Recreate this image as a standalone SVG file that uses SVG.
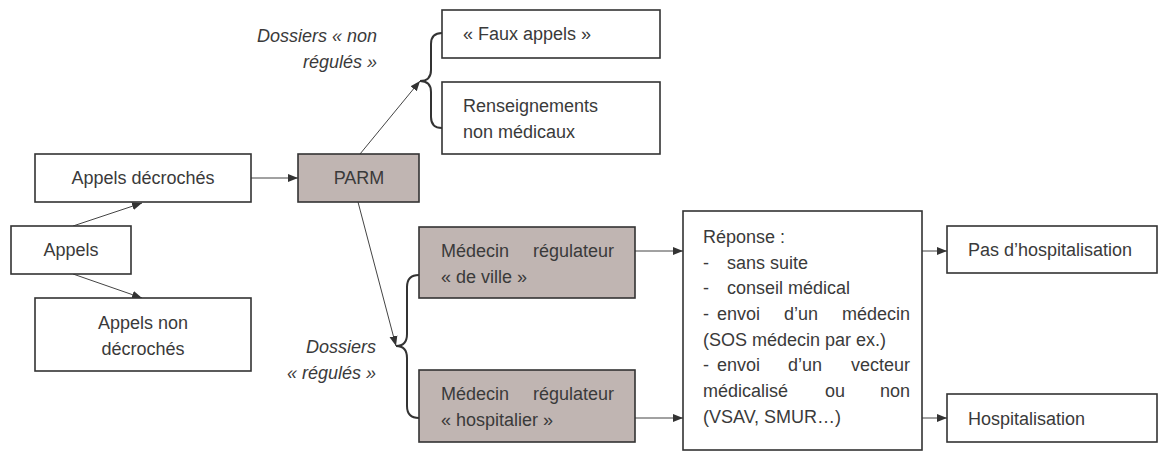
<svg xmlns="http://www.w3.org/2000/svg" width="1160" height="451" viewBox="0 0 1160 451">
<style>
.box{fill:#fff;stroke:#333;stroke-width:1.6}
.grey{fill:#c0b5b2;stroke:#333;stroke-width:1.6}
text{font-family:"Liberation Sans",Arial,sans-serif;font-size:18px;fill:#3a3a3a}
.it{font-style:italic}
.c{text-anchor:middle}
.e{text-anchor:end}
.conn{stroke:#444;stroke-width:1;fill:none}
.brace{stroke:#333;stroke-width:2;fill:none}
</style>
<defs>
<marker id="ah" viewBox="0 0 10 10" refX="10" refY="5" markerWidth="10" markerHeight="10" markerUnits="userSpaceOnUse" orient="auto">
<path d="M0,1 L10,5 L0,9 Z" fill="#333"/>
</marker>
</defs>
<rect width="1160" height="451" fill="#fff"/>

<g id="connectors">
<line class="conn" x1="73" y1="226" x2="142" y2="203" marker-end="url(#ah)"/>
<line class="conn" x1="73" y1="274" x2="142" y2="298" marker-end="url(#ah)"/>
<line class="conn" x1="251" y1="178" x2="298" y2="178" marker-end="url(#ah)"/>
<line class="conn" x1="360" y1="154" x2="420" y2="81" marker-end="url(#ah)"/>
<line class="conn" x1="358" y1="202" x2="396" y2="346" marker-end="url(#ah)"/>
<line class="conn" x1="635" y1="251" x2="683" y2="251" marker-end="url(#ah)"/>
<line class="conn" x1="635" y1="418" x2="683" y2="418" marker-end="url(#ah)"/>
<line class="conn" x1="922" y1="251" x2="947" y2="251" marker-end="url(#ah)"/>
<line class="conn" x1="922" y1="418" x2="947" y2="418" marker-end="url(#ah)"/>
<path class="brace" d="M442,33 Q431,33 431,44 L431,70 Q431,81 420,81 Q431,81 431,92 L431,117 Q431,128 442,128"/>
<path class="brace" d="M419,275 Q407,275 407,287 L407,334 Q407,346 396,346 Q407,346 407,358 L407,406 Q407,418 419,418"/>
</g>

<g id="label-non-regules">
<text class="it e" x="377" y="42">Dossiers « non</text>
<text class="it e" x="377" y="68">régulés »</text>
</g>
<g id="label-regules">
<text class="it e" x="376" y="353">Dossiers</text>
<text class="it e" x="376" y="379">« régulés »</text>
</g>

<g id="appels">
<rect class="box" x="11" y="226" width="120" height="48"/>
<text class="c" x="71" y="256">Appels</text>
</g>
<g id="appels-decroches">
<rect class="box" x="35" y="154" width="216" height="48"/>
<text class="c" x="143" y="184">Appels décrochés</text>
</g>
<g id="appels-non-decroches">
<rect class="box" x="35" y="298" width="216" height="73"/>
<text class="c" x="143" y="329">Appels non</text>
<text class="c" x="143" y="355">décrochés</text>
</g>
<g id="parm">
<rect class="grey" x="298" y="154" width="121" height="48"/>
<text class="c" x="359" y="184">PARM</text>
</g>
<g id="faux-appels">
<rect class="box" x="442" y="10" width="218" height="48"/>
<text x="463" y="40">« Faux appels »</text>
</g>
<g id="renseignements">
<rect class="box" x="442" y="82" width="218" height="72"/>
<text x="463" y="112">Renseignements</text>
<text x="463" y="138">non médicaux</text>
</g>
<g id="medecin-ville">
<rect class="grey" x="419" y="227" width="216" height="71"/>
<text x="441" y="257">Médecin</text>
<text class="e" x="614" y="257">régulateur</text>
<text x="441" y="283">« de ville »</text>
</g>
<g id="medecin-hospitalier">
<rect class="grey" x="419" y="370" width="216" height="72"/>
<text x="441" y="400">Médecin</text>
<text class="e" x="614" y="400">régulateur</text>
<text x="441" y="426">« hospitalier »</text>
</g>
<g id="reponse">
<rect class="box" x="683" y="211" width="239" height="239"/>
<text x="703" y="243">Réponse :</text>
<text x="703" y="268.5">-</text><text x="727" y="268.5">sans suite</text>
<text x="703" y="294">-</text><text x="727" y="294">conseil médical</text>
<text x="703" y="320">-</text><text x="717" y="320">envoi</text><text class="c" x="801" y="320">d’un</text><text class="e" x="910" y="320">médecin</text>
<text x="703" y="345.5">(SOS médecin par ex.)</text>
<text x="703" y="371">-</text><text x="717" y="371">envoi</text><text class="c" x="805" y="371">d’un</text><text class="e" x="910" y="371">vecteur</text>
<text x="703" y="397">médicalisé</text><text class="c" x="835" y="397">ou</text><text class="e" x="910" y="397">non</text>
<text x="703" y="422.5">(VSAV, SMUR…)</text>
</g>
<g id="pas-hospitalisation">
<rect class="box" x="947" y="226" width="210" height="47"/>
<text x="968" y="256">Pas d’hospitalisation</text>
</g>
<g id="hospitalisation">
<rect class="box" x="947" y="394" width="210" height="48"/>
<text x="968" y="424.5">Hospitalisation</text>
</g>
</svg>
